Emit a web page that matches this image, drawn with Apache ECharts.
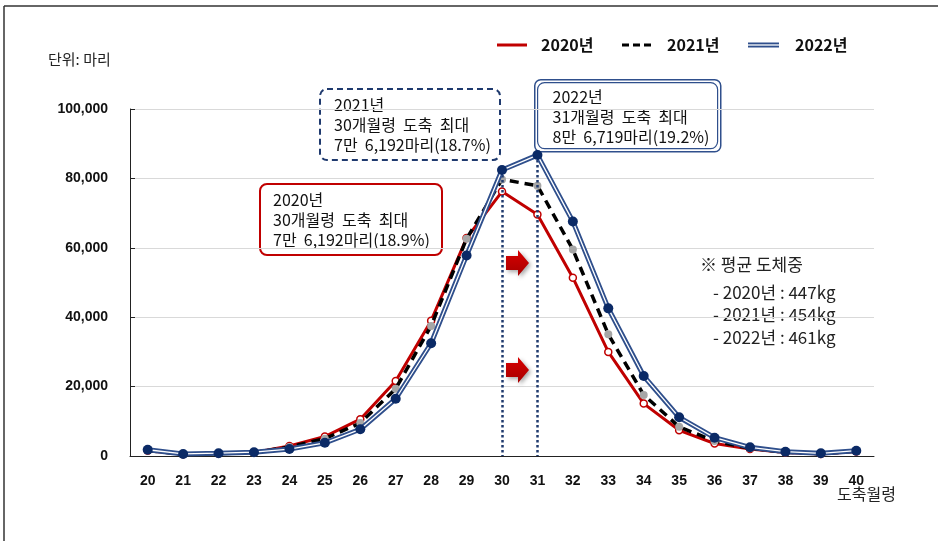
<!DOCTYPE html>
<html>
<head>
<meta charset="utf-8">
<script src="https://cdn.jsdelivr.net/npm/echarts@6/dist/echarts.min.js"></script>
<style>
  html, body { margin: 0; padding: 0; background: #fff; }
  #chart { width: 938px; height: 541px; }
</style>
</head>
<body>
<div id="chart"></div>
<script>
// Slaughter month-age categories
const months = ['20','21','22','23','24','25','26','27','28','29','30','31','32','33','34','35','36','37','38','39','40'];

// Head count slaughtered per month-age
const y2020 = [1500, 500, 700, 1000, 2900, 5600, 10600, 21600, 39000, 62800, 76192, 69600, 51400, 30000, 15100, 7400, 3600, 2000, 1000, 600, 1300];
const y2021 = [1600, 500, 700, 1000, 2600, 5000, 9500, 19400, 37500, 62600, 79700, 77900, 59500, 35100, 17600, 8400, 4300, 2200, 1100, 600, 1400];
const y2022 = [1800, 600, 800, 1100, 2000, 3800, 7700, 16500, 32500, 57800, 82400, 86719, 67600, 42550, 23050, 11150, 5280, 2500, 1250, 770, 1530];

// Peak month-ages marked with dotted guides
const peakMonths = ['30', '31'];

const legendNames = ['2020년', '2021년', '2022년'];
const avgWeightLines = ['※ 평균 도체중', '- 2020년 : 447kg', '- 2021년 : 454kg', '- 2022년 : 461kg'];
const note2021 = ['2021년', '30개월령  도축  최대', '7만  6,192마리(18.7%)'];
const note2022 = ['2022년', '31개월령  도축  최대', '8만  6,719마리(19.2%)'];
const note2020 = ['2020년', '30개월령  도축  최대', '7만  6,192마리(18.9%)'];

const KR = '"Noto Sans CJK KR", "Noto Sans", sans-serif';
const NAVY = '#0b2a66';
const NAVY_LINE = '#2f4f8c';
const RED = '#c00000';

const chart = echarts.init(document.getElementById('chart'), null, { renderer: 'canvas' });

function noteBox(lines, x, y, w, h, border, padX, padY) {
  return {
    type: 'group',
    left: x, top: y,
    children: [
      {
        type: 'rect',
        shape: { x: 0, y: 0, width: w, height: h, r: 7 },
        style: Object.assign({ fill: '#fff' }, border)
      },
      {
        type: 'text',
        x: padX, y: padY,
        style: {
          text: lines.join('\n'),
          font: '16px ' + KR,
          lineHeight: 20,
          fill: '#111'
        }
      }
    ]
  };
}

function arrow(cx, cy) {
  return {
    type: 'polygon',
    shape: {
      points: [
        [cx - 11, cy - 7], [cx + 1, cy - 7], [cx + 1, cy - 13],
        [cx + 12, cy], [cx + 1, cy + 13], [cx + 1, cy + 7], [cx - 11, cy + 7]
      ]
    },
    style: {
      fill: new echarts.graphic.LinearGradient(0, 0, 0, 1, [
        { offset: 0, color: '#d80000' }, { offset: 1, color: '#a60000' }
      ]),
      shadowBlur: 4, shadowColor: 'rgba(0,0,0,0.35)', shadowOffsetX: 2, shadowOffsetY: 2
    },
    z: 20
  };
}

const legendText = { font: 'bold 16px ' + KR, fill: '#111', textVerticalAlign: 'middle' };

const graphics = [
  // frame edges
  { type: 'line', shape: { x1: 4, y1: 6, x2: 938, y2: 6 }, style: { stroke: '#333', lineWidth: 1.5 } },
  { type: 'line', shape: { x1: 4, y1: 6, x2: 4, y2: 541 }, style: { stroke: '#333', lineWidth: 1.5 } },
  // unit
  { type: 'text', left: 48, top: 52, style: { text: '단위: 마리', font: '15px ' + KR, fill: '#222' } },
  // legend
  { type: 'line', shape: { x1: 497, y1: 45, x2: 527, y2: 45 }, style: { stroke: RED, lineWidth: 3 } },
  { type: 'text', x: 541, y: 45, style: Object.assign({ text: legendNames[0] }, legendText) },
  { type: 'line', shape: { x1: 622, y1: 45, x2: 653, y2: 45 }, style: { stroke: '#000', lineWidth: 3, lineDash: [7, 4] } },
  { type: 'text', x: 667, y: 45, style: Object.assign({ text: legendNames[1] }, legendText) },
  { type: 'line', shape: { x1: 748, y1: 45, x2: 779, y2: 45 }, style: { stroke: NAVY_LINE, lineWidth: 5 } },
  { type: 'line', shape: { x1: 748, y1: 45, x2: 779, y2: 45 }, style: { stroke: '#fff', lineWidth: 1.3 } },
  { type: 'text', x: 795, y: 45, style: Object.assign({ text: legendNames[2] }, legendText) },
  // annotation boxes
  noteBox(note2021, 319, 88, 180, 71, { stroke: '#1f3a6e', lineWidth: 2, lineDash: [6, 4] }, 14, 6),
  {
    type: 'rect', left: 534, top: 79,
    shape: { x: 0, y: 0, width: 186, height: 72, r: 6 },
    style: { fill: '#fff', stroke: '#2f4f8c', lineWidth: 1.5 }
  },
  noteBox(note2022, 537, 82, 180, 66, { stroke: '#2f4f8c', lineWidth: 1.2 }, 15, 4),
  noteBox(note2020, 259, 183, 182, 71, { stroke: RED, lineWidth: 2 }, 13, 6),
  // average carcass weight note
  { type: 'text', left: 700, top: 256, style: { text: avgWeightLines[0], font: '17px ' + KR, fill: '#222' } },
  { type: 'text', left: 713, top: 281, style: { text: avgWeightLines.slice(1).join('\n'), font: '17px ' + KR, lineHeight: 22.5, fill: '#222' } },
  // shift arrows
  arrow(517, 263),
  arrow(517, 370),
  // x-axis title
  { type: 'text', left: 837, top: 486, style: { text: '도축월령', font: '16px ' + KR, fill: '#222' } }
];

const option = {
  animation: false,
  backgroundColor: '#fff',
  grid: { left: 130, right: 64, top: 109, bottom: 85, containLabel: false },
  xAxis: {
    type: 'category',
    data: months,
    boundaryGap: true,
    axisLine: { lineStyle: { color: '#222', width: 1 } },
    axisTick: { inside: true, length: 5, lineStyle: { color: '#222' } },
    axisLabel: { margin: 18, color: '#111', fontFamily: '"Liberation Sans", Arial, sans-serif', fontWeight: 'bold', fontSize: 14 },
    splitLine: { show: false }
  },
  yAxis: {
    type: 'value',
    min: 0, max: 100000, interval: 20000,
    axisLine: { show: true, lineStyle: { color: '#222', width: 1 } },
    axisTick: { show: true, inside: true, length: 5, lineStyle: { color: '#222' } },
    axisLabel: {
      margin: 22, color: '#111', fontFamily: '"Liberation Sans", Arial, sans-serif', fontWeight: 'bold', fontSize: 14,
      formatter: v => v.toLocaleString('en-US')
    },
    splitLine: { lineStyle: { color: '#d9d9d9', width: 1 } }
  },
  graphic: graphics,
  series: [
    {
      name: legendNames[0], type: 'line', data: y2020, z: 3,
      lineStyle: { color: RED, width: 3 },
      symbol: 'circle', symbolSize: 7,
      itemStyle: { color: '#fff', borderColor: RED, borderWidth: 1.5 }
    },
    {
      name: legendNames[1], type: 'line', data: y2021, z: 4,
      lineStyle: { color: '#000', width: 3.5, type: [9, 6] },
      symbol: 'circle', symbolSize: 8,
      itemStyle: { color: '#a6a6a6', borderColor: '#a6a6a6', borderWidth: 0 }
    },
    {
      name: legendNames[2], type: 'line', data: y2022, z: 5,
      lineStyle: { color: NAVY_LINE, width: 5 },
      symbol: 'none',
      markLine: {
        silent: true, symbol: 'none', label: { show: false },
        lineStyle: { color: '#1f3a6e', type: [2.5, 2.5], width: 2.5 },
        data: peakMonths.map(m => [
          { coord: [m, y2022[months.indexOf(m)]] },
          { coord: [m, 0] }
        ])
      }
    },
    {
      name: legendNames[2] + ' inner', type: 'line', data: y2022, z: 6,
      lineStyle: { color: '#fff', width: 1.3 },
      symbol: 'none'
    },
    {
      name: legendNames[2] + ' points', type: 'line', data: y2022, z: 7,
      lineStyle: { width: 0, opacity: 0 },
      symbol: 'circle', symbolSize: 10,
      itemStyle: { color: NAVY }
    }
  ]
};

chart.setOption(option);
</script>
</body>
</html>
